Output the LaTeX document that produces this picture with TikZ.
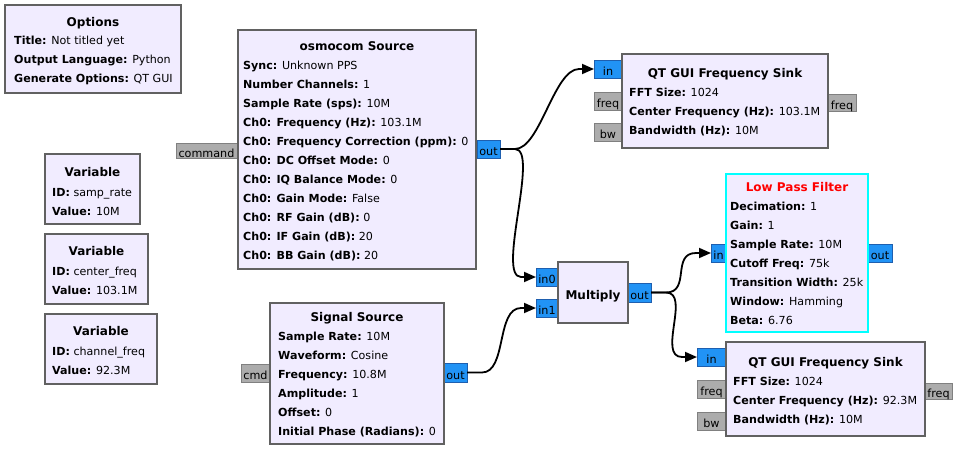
\documentclass[tikz,border=0pt]{standalone}
\usepackage{fontspec}
\setmainfont{DejaVu Sans}
\usetikzlibrary{arrows.meta}

\definecolor{blkfill}{RGB}{241,236,255}
\definecolor{blkdraw}{RGB}{97,97,97}
\definecolor{hilite}{RGB}{0,255,255}
\definecolor{strfill}{RGB}{33,147,245}
\definecolor{strdraw}{RGB}{30,95,175}
\definecolor{msgfill}{RGB}{172,172,172}
\definecolor{msgdraw}{RGB}{128,128,128}

% bold parameter name followed by its value
\newcommand\kv[2]{\textbf{#1:} #2}

\begin{document}
\begin{tikzpicture}[x=1pt,y=-1pt,
  blk/.style={draw=blkdraw,fill=blkfill,line width=2pt,outer sep=0pt,inner sep=0pt,anchor=north west},
  strport/.style={draw=strdraw,fill=strfill,line width=1pt,outer sep=0pt,inner sep=0pt,
    anchor=north west,font=\fontsize{11.2}{13}\selectfont,text height=13pt,text depth=0pt},
  msgport/.style={strport,draw=msgdraw,fill=msgfill},
  txt/.style={inner sep=0pt,anchor=base west,font=\fontsize{11.1}{13}\selectfont},
  ttl/.style={inner sep=0pt,anchor=base,font=\fontsize{12}{14}\selectfont\bfseries},
  wire/.style={line width=1.8pt,-{Triangle[length=12pt,width=10pt]}}]

\fill[white] (0,0) rectangle (962,453);
\useasboundingbox (0,0) rectangle (962,453);

% ---------- ports (drawn first, blocks overlap their inner ends) ----------
\node[msgport,minimum width=61pt,minimum height=15pt] (osmo-cmd) at (176,143) {command};
\node[strport,minimum width=23pt,minimum height=18pt] (osmo-out) at (477,140) {out};

\node[strport,minimum width=28pt,minimum height=18pt] (qt1-in)   at (594,60)  {in};
\node[msgport,minimum width=28pt,minimum height=18pt] (qt1-freq) at (594,92)  {freq};
\node[msgport,minimum width=28pt,minimum height=18pt] (qt1-bw)   at (594,123) {bw};
\node[msgport,minimum width=28pt,minimum height=17pt] (qt1-fout) at (828,94)  {freq};

\node[strport,minimum width=22pt,minimum height=18pt] (mul-in0) at (536,268) {in0};
\node[strport,minimum width=22pt,minimum height=18pt] (mul-in1) at (536,299) {in1};
\node[strport,minimum width=23pt,minimum height=19pt] (mul-out) at (628,283) {out};

\node[strport,minimum width=15pt,minimum height=18pt] (lpf-in)  at (711,244) {in};
\node[strport,minimum width=24pt,minimum height=18pt] (lpf-out) at (868,244) {out};

\node[msgport,minimum width=29pt,minimum height=18pt] (sig-cmd) at (241,364) {cmd};
\node[strport,minimum width=23pt,minimum height=19pt] (sig-out) at (444,363) {out};

\node[strport,minimum width=29pt,minimum height=18pt] (qt2-in)   at (697,348) {in};
\node[msgport,minimum width=29pt,minimum height=18pt] (qt2-freq) at (697,380) {freq};
\node[msgport,minimum width=29pt,minimum height=18pt] (qt2-bw)   at (697,412) {bw};
\node[msgport,minimum width=27pt,minimum height=16pt] (qt2-fout) at (925,383) {freq};

% ---------- blocks ----------
\node[blk,minimum width=176pt,minimum height=88pt]  (opts) at (5,5)   {};
\node[blk,minimum width=95pt,minimum height=70pt]   (var1) at (45,154) {};
\node[blk,minimum width=103pt,minimum height=70pt]  (var2) at (45,234) {};
\node[blk,minimum width=112pt,minimum height=70pt]  (var3) at (45,314) {};
\node[blk,minimum width=238pt,minimum height=239pt] (osmo) at (238,30) {};
\node[blk,minimum width=206pt,minimum height=94pt]  (qt1)  at (622,54) {};
\node[blk,draw=hilite,minimum width=142pt,minimum height=158pt] (lpf) at (726,174) {};
\node[blk,minimum width=70pt,minimum height=61pt]   (mul)  at (558,262) {};
\node[blk,minimum width=174pt,minimum height=141pt] (sig)  at (270,303) {};
\node[blk,minimum width=199pt,minimum height=94pt]  (qt2)  at (726,342) {};

% ---------- block texts ----------
\node[ttl] (opts-t) at (93,26) {Options};
\foreach \t [count=\i] in {{\kv{Title}{Not titled yet}},{\kv{Output Language}{Python}},{\kv{Generate Options}{QT GUI}}}
  \node[txt] (opts-l\i) at (14,{44+19*(\i-1)}) {\t};

\node[ttl] (var1-t) at (92.5,176) {Variable};
\foreach \t [count=\i] in {{\kv{ID}{samp\_rate}},{\kv{Value}{10M}}}
  \node[txt] (var1-l\i) at (52,{196+19*(\i-1)}) {\t};

\node[ttl] (var2-t) at (96.5,255) {Variable};
\foreach \t [count=\i] in {{\kv{ID}{center\_freq}},{\kv{Value}{103.1M}}}
  \node[txt] (var2-l\i) at (52,{275+19*(\i-1)}) {\t};

\node[ttl] (var3-t) at (101,335) {Variable};
\foreach \t [count=\i] in {{\kv{ID}{channel\_freq}},{\kv{Value}{92.3M}}}
  \node[txt] (var3-l\i) at (52,{355+19*(\i-1)}) {\t};

\node[ttl] (osmo-t) at (357,50) {osmocom Source};
\foreach \t [count=\i] in {{\kv{Sync}{Unknown PPS}},{\kv{Number Channels}{1}},
    {\kv{Sample Rate (sps)}{10M}},{\kv{Ch0: Frequency (Hz)}{103.1M}},
    {\kv{Ch0: Frequency Correction (ppm)}{0}},{\kv{Ch0: DC Offset Mode}{0}},
    {\kv{Ch0: IQ Balance Mode}{0}},{\kv{Ch0: Gain Mode}{False}},
    {\kv{Ch0: RF Gain (dB)}{0}},{\kv{Ch0: IF Gain (dB)}{20}},{\kv{Ch0: BB Gain (dB)}{20}}}
  \node[txt] (osmo-l\i) at (243,{69+19*(\i-1)}) {\t};

\node[ttl] (qt1-t) at (725,77.5) {QT GUI Frequency Sink};
\foreach \t [count=\i] in {{\kv{FFT Size}{1024}},{\kv{Center Frequency (Hz)}{103.1M}},{\kv{Bandwidth (Hz)}{10M}}}
  \node[txt] (qt1-l\i) at (629,{96.5+19*(\i-1)}) {\t};

\node[ttl,text=red] (lpf-t) at (797,191.5) {Low Pass Filter};
\foreach \t [count=\i] in {{\kv{Decimation}{1}},{\kv{Gain}{1}},{\kv{Sample Rate}{10M}},
    {\kv{Cutoff Freq}{75k}},{\kv{Transition Width}{25k}},{\kv{Window}{Hamming}},{\kv{Beta}{6.76}}}
  \node[txt] (lpf-l\i) at (730,{210.5+19*(\i-1)}) {\t};

\node[ttl] (mul-t) at (593,299) {Multiply};

\node[ttl] (sig-t) at (357,321.5) {Signal Source};
\foreach \t [count=\i] in {{\kv{Sample Rate}{10M}},{\kv{Waveform}{Cosine}},{\kv{Frequency}{10.8M}},
    {\kv{Amplitude}{1}},{\kv{Offset}{0}},{\kv{Initial Phase (Radians)}{0}}}
  \node[txt] (sig-l\i) at (278,{340.5+19*(\i-1)}) {\t};

\node[ttl] (qt2-t) at (825.5,366.5) {QT GUI Frequency Sink};
\foreach \t [count=\i] in {{\kv{FFT Size}{1024}},{\kv{Center Frequency (Hz)}{92.3M}},{\kv{Bandwidth (Hz)}{10M}}}
  \node[txt] (qt2-l\i) at (733,{385+19*(\i-1)}) {\t};

% ---------- connections ----------
\draw[wire] (osmo-out.east) -- ++(15,0)
  .. controls +(25,0) and ([xshift=-40pt]qt1-in.west) .. ([xshift=-15pt]qt1-in.west) -- (qt1-in.west);
\draw[wire] (osmo-out.east) -- ++(15,0)
  .. controls +(25,0) and ([xshift=-40pt]mul-in0.west) .. ([xshift=-15pt]mul-in0.west) -- (mul-in0.west);
\draw[wire] (sig-out.east) -- ++(15,0)
  .. controls +(25,0) and ([xshift=-40pt]mul-in1.west) .. ([xshift=-15pt]mul-in1.west) -- (mul-in1.west);
\draw[wire] (mul-out.east) -- ++(15,0)
  .. controls +(25,0) and ([xshift=-40pt]lpf-in.west) .. ([xshift=-15pt]lpf-in.west) -- (lpf-in.west);
\draw[wire] (mul-out.east) -- ++(15,0)
  .. controls +(25,0) and ([xshift=-40pt]qt2-in.west) .. ([xshift=-15pt]qt2-in.west) -- (qt2-in.west);

\end{tikzpicture}
\end{document}
